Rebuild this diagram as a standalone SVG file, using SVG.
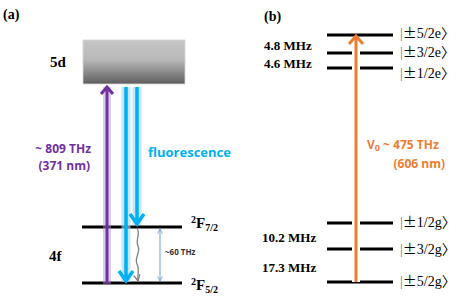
<svg xmlns="http://www.w3.org/2000/svg" width="464" height="300" viewBox="0 0 464 300">
<defs>
<linearGradient id="g5d" x1="0" y1="0" x2="0" y2="1">
<stop offset="0" stop-color="#c6c6c6"/>
<stop offset="0.45" stop-color="#b8b8b8"/>
<stop offset="1" stop-color="#5e5e5e"/>
</linearGradient>
<marker id="gy" viewBox="0 0 10 10" refX="9" refY="5" markerWidth="6" markerHeight="6" orient="auto"><path d="M1,1 L9,5 L1,9" fill="none" stroke="#808080" stroke-width="1.6"/></marker>
<marker id="lb" viewBox="0 0 10 10" refX="9" refY="5" markerWidth="6" markerHeight="6" orient="auto-start-reverse"><path d="M1,1 L9,5 L1,9" fill="none" stroke="#6a9fd8" stroke-width="1.4"/></marker>
</defs>
<style>
.lv{stroke:#000;stroke-width:3}
.ser{font-family:"Liberation Serif",serif;font-weight:bold;fill:#000}
.san{font-family:"Open Sans","Liberation Sans",sans-serif;font-weight:bold}
.ket{font-family:"Liberation Serif","Noto Sans CJK JP",serif;font-size:14px;fill:#000}
.pm{font-family:"Noto Sans CJK JP",sans-serif;font-size:14px}
</style>
<text class="ser" x="3" y="19" font-size="14">(a)</text>
<text class="ser" x="264" y="21" font-size="14">(b)</text>
<g id="level-5d">
<rect x="83" y="40" width="102" height="44" fill="url(#g5d)" stroke="#d8d8d8" stroke-width="0.8"/>
<text class="ser" x="50" y="67" font-size="15">5d</text>
</g>
<g id="level-4f">
<text class="ser" x="49" y="261" font-size="15">4f</text>
</g>
<g id="level-F72">
<line class="lv" x1="82" y1="227" x2="182" y2="227"/>
<text class="ser" x="191" y="228" font-size="15"><tspan font-size="10" dy="-5">2</tspan><tspan dy="5">F</tspan><tspan font-size="10" dy="3">7/2</tspan></text>
</g>
<g id="level-F52">
<line class="lv" x1="82" y1="283" x2="182" y2="283"/>
<text class="ser" x="191" y="290" font-size="15"><tspan font-size="10" dy="-5">2</tspan><tspan dy="5">F</tspan><tspan font-size="10" dy="3">5/2</tspan></text>
</g>
<g id="levels-b">
<line class="lv" x1="327" y1="35" x2="393" y2="35"/>
<line class="lv" x1="327" y1="53" x2="393" y2="53"/>
<line class="lv" x1="327" y1="68" x2="393" y2="68"/>
<line class="lv" x1="327" y1="223" x2="393" y2="223"/>
<line class="lv" x1="327" y1="249" x2="393" y2="249"/>
<line class="lv" x1="327" y1="282" x2="393" y2="282"/>
<text class="ket" x="400" y="38"><tspan fill="#777">|</tspan><tspan class="pm">±</tspan>5/2e〉</text>
<text class="ket" x="400" y="57"><tspan fill="#777">|</tspan><tspan class="pm">±</tspan>3/2e〉</text>
<text class="ket" x="400" y="78"><tspan fill="#777">|</tspan><tspan class="pm">±</tspan>1/2e〉</text>
<text class="ket" x="400" y="227"><tspan fill="#777">|</tspan><tspan class="pm">±</tspan>1/2g〉</text>
<text class="ket" x="400" y="254"><tspan fill="#777">|</tspan><tspan class="pm">±</tspan>3/2g〉</text>
<text class="ket" x="400" y="286"><tspan fill="#777">|</tspan><tspan class="pm">±</tspan>5/2g〉</text>
<text class="ser" x="264" y="50" font-size="13">4.8 MHz</text>
<text class="ser" x="264" y="68" font-size="13">4.6 MHz</text>
<text class="ser" x="262" y="242" font-size="13">10.2 MHz</text>
<text class="ser" x="262" y="272" font-size="13">17.3 MHz</text>
</g>
<g id="connectors">
<line x1="107" y1="87" x2="107" y2="284" stroke="#b58fd0" stroke-width="8" opacity="0.45"/>
<path d="M107,86 L107,284 M101,94 L107,87 L113,94" fill="none" stroke="#7030a0" stroke-width="3"/>
<line x1="126" y1="87" x2="126" y2="282" stroke="#9ed8f5" stroke-width="9" opacity="0.6"/>
<line x1="137" y1="87" x2="137" y2="225" stroke="#9ed8f5" stroke-width="9" opacity="0.6"/>
<path d="M126,87 L126,281 M119,271 L126,281 L133,271" fill="none" stroke="#00b0f0" stroke-width="3.5"/>
<path d="M137,87 L137,224 M130,214 L137,224 L144,214" fill="none" stroke="#00b0f0" stroke-width="3.5"/>
<path d="M137,228 C141,234 135,240 138,246 C141,252 134,258 137,264 C140,270 137,276 138,281" fill="none" stroke="#808080" stroke-width="1.3" marker-end="url(#gy)"/>
<line x1="160" y1="229" x2="160" y2="281" stroke="#6a9fd8" stroke-width="1" marker-start="url(#lb)" marker-end="url(#lb)"/>
<line x1="356" y1="38" x2="356" y2="282" stroke="#fff" stroke-width="8"/>
<path d="M356,282 L356,36 M349,44 L356,36 L363,44" fill="none" stroke="#ed7d31" stroke-width="3"/>
</g>
<text class="san" x="91" y="153" font-size="12" fill="#7030a0" text-anchor="end">~ 809 THz</text>
<text class="san" x="90" y="170" font-size="12" fill="#7030a0" text-anchor="end">(371 nm)</text>
<text class="san" x="148" y="157" font-size="13" fill="#00b0f0">fluorescence</text>
<text class="san" x="165" y="255" font-size="8" fill="#333">~60 THz</text>
<text class="san" x="367" y="149" font-size="12" fill="#ed7d31">V<tspan font-size="9" dy="2">0</tspan><tspan dy="-2"> ~ 475 THz</tspan></text>
<text class="san" x="445" y="168" font-size="12" fill="#ed7d31" text-anchor="end">(606 nm)</text>
</svg>
